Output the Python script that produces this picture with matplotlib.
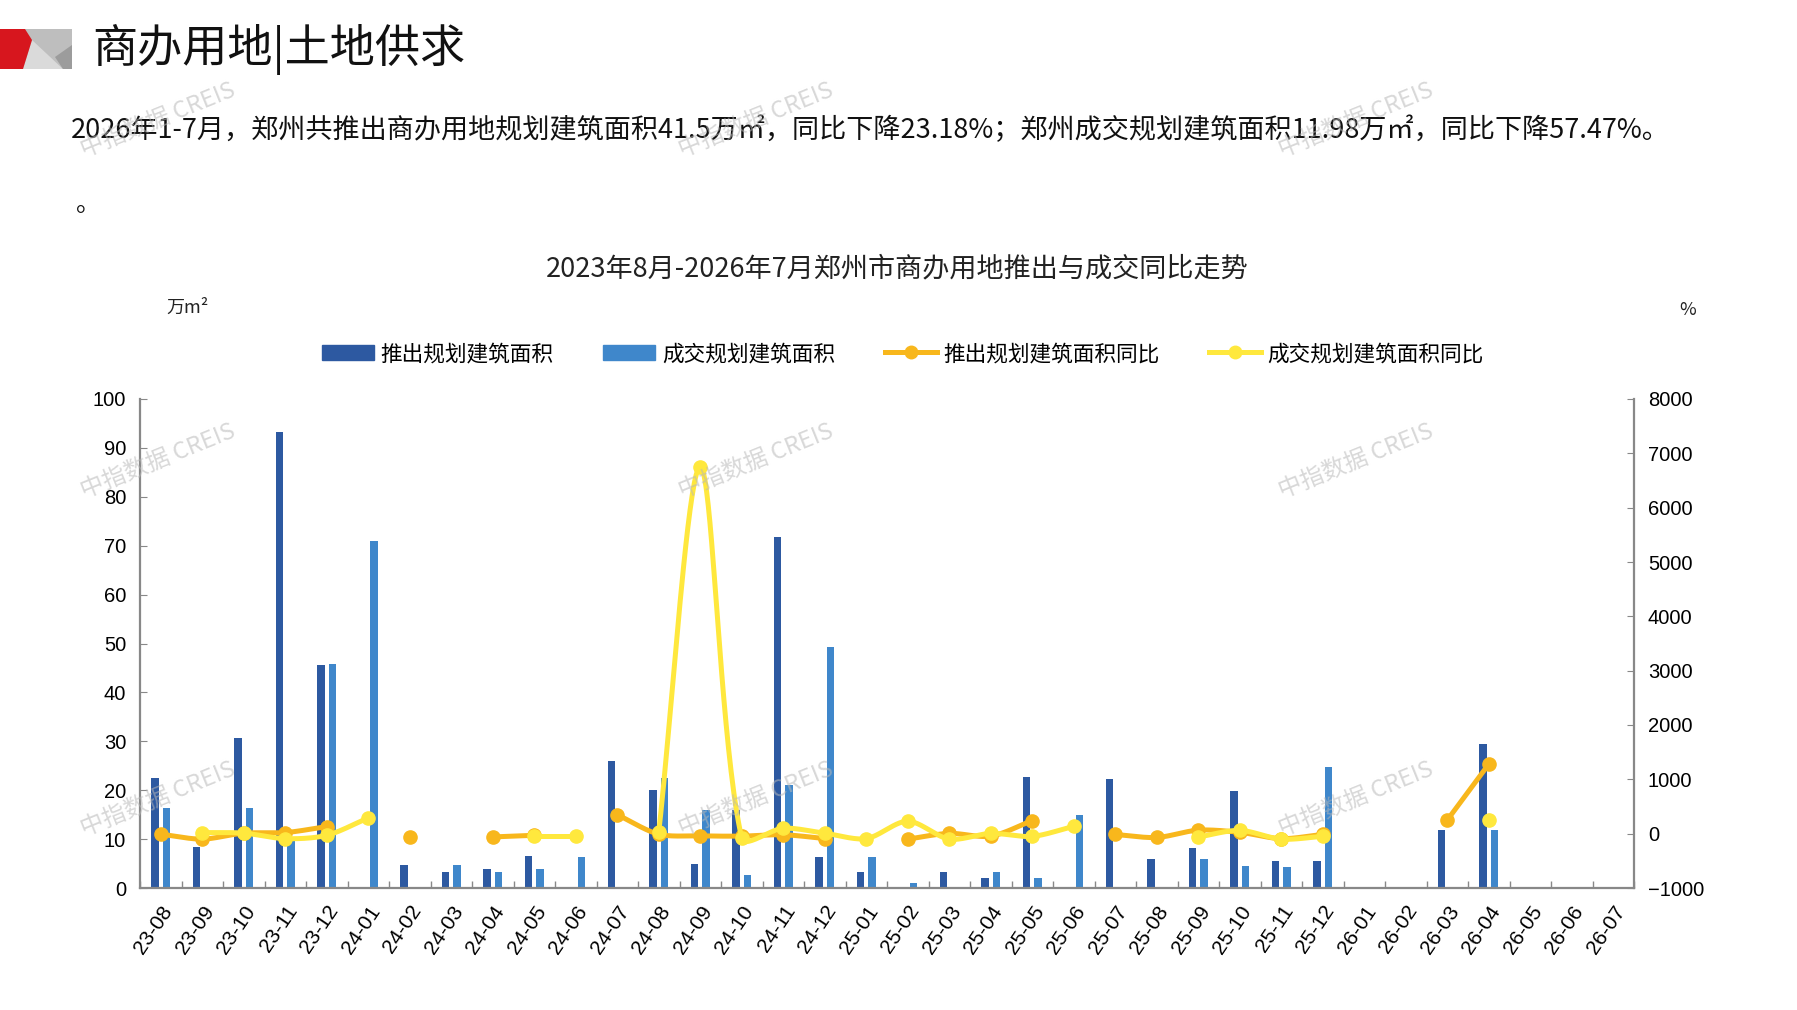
import numpy as np
import matplotlib
matplotlib.use("Agg")
import matplotlib.pyplot as plt
from matplotlib.patches import Polygon, Patch
from matplotlib.lines import Line2D

plt.rcParams['font.family'] = ['Noto Sans CJK SC', 'DejaVu Sans']

nan = np.nan
months = ['23-08', '23-09', '23-10', '23-11', '23-12', '24-01', '24-02', '24-03', '24-04',
          '24-05', '24-06', '24-07', '24-08', '24-09', '24-10', '24-11', '24-12', '25-01',
          '25-02', '25-03', '25-04', '25-05', '25-06', '25-07', '25-08', '25-09', '25-10',
          '25-11', '25-12', '26-01', '26-02', '26-03', '26-04', '26-05', '26-06', '26-07']

supply_area = [22.4, 8.3, 30.6, 93.2, 45.7, 0, 4.8, 3.2, 3.9, 6.6, 0, 25.9, 20.1, 5.0, 15.9,
               71.8, 6.3, 3.3, 0, 3.3, 2.1, 22.6, 0, 22.2, 6.0, 8.1, 19.9, 5.6, 5.5, 0, 0,
               11.9, 29.4, 0, 0, 0]
deal_area = [16.3, 0.2, 16.4, 10.0, 45.8, 70.9, 0.3, 4.8, 3.2, 3.9, 6.4, 0, 22.4, 15.9, 2.6,
             21.0, 49.3, 6.3, 1.0, 0, 3.3, 2.1, 14.9, 0, 0, 6.0, 4.6, 4.3, 24.7, 0, 0,
             0, 11.9, 0, 0, 0]
supply_yoy = [-10, -100, 10, 20, 130, nan, -60, nan, -60, -30, nan, 350, -10, -40, -45,
              -20, -90, nan, -100, 5, -45, 240, nan, -15, -70, 65, 25, -92, -13, nan, nan,
              250, 1280, nan, nan, nan]
deal_yoy = [nan, 20, 10, -92, -30, 290, nan, nan, nan, -40, -40, nan, 30, 6750, -84,
            100, 8, -91, 230, -100, 5, -50, 135, nan, nan, -62, 60, -100, -50, nan, nan,
            nan, 250, nan, nan, nan]

labels = ['推出规划建筑面积', '成交规划建筑面积', '推出规划建筑面积同比', '成交规划建筑面积同比']
c_dark, c_light, c_orange, c_yellow = '#2D59A1', '#3F87CB', '#F8B71C', '#FFE83D'

W, H = 1797, 1010
fig = plt.figure(figsize=(W / 100, H / 100), dpi=100)
fx = lambda px: px / W
fy = lambda py: 1 - py / H

# header logo
def poly(pts, color):
    fig.add_artist(Polygon([(fx(a), fy(b)) for a, b in pts], closed=True,
                           transform=fig.transFigure, facecolor=color, edgecolor='none'))
poly([(25, 29), (72, 29), (72, 69), (23, 69)], '#BEBEBE')
poly([(32, 40), (23, 69), (63, 69)], '#DADADA')
poly([(72, 45), (55, 57), (63, 69), (72, 69)], '#9C9C9C')
poly([(0, 29), (25, 29), (32, 40), (23, 69), (0, 69)], '#D7161E')

fig.text(fx(92), fy(49), '商办用地|土地供求', fontsize=32.5, va='center', ha='left', color='#111111')
fig.text(fx(71), fy(130),
         '2026年1-7月，郑州共推出商办用地规划建筑面积41.5万㎡，同比下降23.18%；'
         '郑州成交规划建筑面积11.98万㎡，同比下降57.47%。',
         fontsize=19.5, va='center', ha='left', color='#111111')
fig.text(fx(76), fy(204), '。', fontsize=18, va='center', ha='left', color='#111111')
fig.text(fx(897), fy(269), '2023年8月-2026年7月郑州市商办用地推出与成交同比走势',
         fontsize=19.5, va='center', ha='center', color='#222222')
fig.text(fx(166), fy(308), '万m²', fontsize=13, va='center', ha='left', color='#222222')
fig.text(fx(1688), fy(310), '%', fontsize=13, va='center', ha='center', color='#222222')

ax = fig.add_axes([fx(140), fy(888), fx(1634) - fx(140), fy(399) - fy(888)])
ax2 = ax.twinx()

x = np.arange(len(months))
bw = 0.175
ax.bar(x - 0.14, supply_area, width=bw, color=c_dark, zorder=2)
ax.bar(x + 0.14, deal_area, width=bw, color=c_light, zorder=2)

ax.set_xlim(-0.5, len(months) - 0.5)
ax.set_ylim(0, 100)
ax.set_yticks(np.arange(0, 101, 10))
ax2.set_xlim(-0.5, len(months) - 0.5)
ax2.set_ylim(-1000, 8000)
ax2.set_yticks(np.arange(-1000, 8001, 1000))


def smooth_runs(vals, tension=0.3):
    v = np.array(vals, dtype=float)
    runs, cur = [], []
    for i, val in enumerate(v):
        if np.isnan(val):
            if cur:
                runs.append(cur)
            cur = []
        else:
            cur.append(i)
    if cur:
        runs.append(cur)
    out = []
    t = np.linspace(0, 1, 40)[:, None]
    for r in runs:
        if len(r) < 2:
            continue
        pts = ax2.transData.transform(np.array([[i, v[i]] for i in r]))
        n = len(pts)
        cin, cout = [], []
        for i in range(n):
            p1 = pts[i]
            p0 = pts[i - 1] if i > 0 else pts[i]
            p2 = pts[i + 1] if i + 1 < n else pts[i]
            d01 = np.hypot(*(p1 - p0))
            d12 = np.hypot(*(p2 - p1))
            s = d01 + d12 if d01 + d12 > 0 else 1
            cin.append(p1 - tension * d01 / s * (p2 - p0))
            cout.append(p1 + tension * d12 / s * (p2 - p0))
        seg = []
        for i in range(n - 1):
            p1, p2, c1, c2 = pts[i], pts[i + 1], cout[i], cin[i + 1]
            b = ((1 - t) ** 3) * p1 + 3 * ((1 - t) ** 2) * t * c1 + 3 * (1 - t) * t ** 2 * c2 + t ** 3 * p2
            seg.append(b)
        out.append(ax2.transData.inverted().transform(np.vstack(seg)))
    return out


for vals, col, z in [(supply_yoy, c_orange, 3), (deal_yoy, c_yellow, 4)]:
    for curve in smooth_runs(vals):
        ax2.plot(curve[:, 0], curve[:, 1], color=col, lw=3.6, zorder=z, solid_capstyle='round')
    ax2.plot(x, vals, linestyle='none', marker='o', ms=9.5, color=col, zorder=z)

ax.set_xticks(x)
ax.set_xticklabels(months, rotation=56, ha='right', rotation_mode='anchor',
                   fontfamily='Liberation Sans', fontsize=15)
ax.set_xticks(np.arange(-0.5, len(months), 1), minor=True)
ax.tick_params(axis='x', which='major', length=0, pad=10)
ax.tick_params(axis='x', which='minor', length=5, direction='in', color='#888888', width=1)
ax.tick_params(axis='y', length=5, direction='in', color='#888888', labelsize=14.5, pad=10)
ax2.tick_params(axis='y', length=5, direction='in', color='#888888', labelsize=14.5, pad=10)
for lab in ax.get_yticklabels() + ax2.get_yticklabels():
    lab.set_fontfamily('Liberation Sans')

for a in (ax, ax2):
    a.spines['top'].set_visible(False)
    for s in ('left', 'right', 'bottom'):
        a.spines[s].set_color('#888888')
        a.spines[s].set_linewidth(1.6)
ax.spines['right'].set_visible(False)
ax2.spines['left'].set_visible(False)
ax2.spines['bottom'].set_visible(False)

handles = [Patch(color=c_dark), Patch(color=c_light),
           Line2D([], [], color=c_orange, lw=3.6, marker='o', ms=9),
           Line2D([], [], color=c_yellow, lw=3.6, marker='o', ms=9)]
fig.legend(handles, labels, loc='center', bbox_to_anchor=(fx(903), fy(354)),
           bbox_transform=fig.transFigure, ncol=4, frameon=False, fontsize=15.6,
           handlelength=2.4, handletextpad=0.3, columnspacing=2.3, numpoints=1)

# watermarks
for wx in (158, 756, 1356):
    for wy in (120, 461, 799):
        fig.text(fx(wx), fy(wy), '中指数据 CREIS', fontsize=17, rotation=22,
                 ha='center', va='center', color='#B8B8B8', alpha=0.55, zorder=10)

fig.savefig('out.png', dpi=100)
